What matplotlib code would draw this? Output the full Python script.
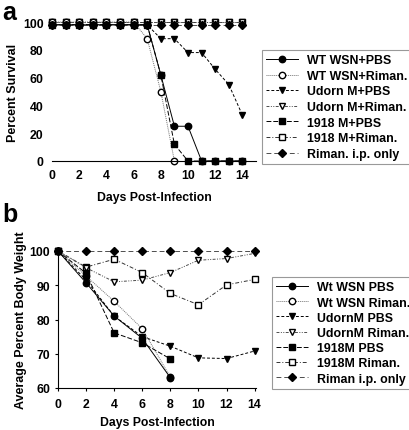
import matplotlib
matplotlib.use('Agg')
import matplotlib.pyplot as plt
import numpy as np

plt.rcParams['font.family'] = ['Liberation Sans', 'DejaVu Sans']
plt.rcParams['font.weight'] = 'bold'

# panel a: survival
days_a = list(range(15))
wt_pbs_a = [98, 98, 98, 98, 98, 98, 98, 98, 62, 25, 25, 0, 0, 0, 0]
wt_rim_a = [100, 100, 100, 100, 100, 100, 100, 88, 50, 0]
ud_pbs_a = [98, 98, 98, 98, 98, 98, 98, 98, 88, 88, 78, 78, 66, 55, 33]
ud_rim_a = [100] * 15
m18_pbs_a = [98, 98, 98, 98, 98, 98, 98, 98, 62, 12, 0, 0, 0, 0, 0]
m18_rim_a = [100] * 15
rim_only_a = [98] * 15
labels_a = ['WT WSN+PBS', 'WT WSN+Riman.', 'Udorn M+PBS', 'Udorn M+Riman.',
            '1918 M+PBS', '1918 M+Riman.', 'Riman. i.p. only']

# panel b: body weight
days_b = [0, 2, 4, 6, 8, 10, 12, 14]
wt_pbs_b = [100, 90.7, 81, 74.5, 63]
wt_rim_b = [100, 92.7, 85.3, 77.3, 63.2]
ud_pbs_b = [100, 91.5, 81, 75, 72.2, 68.8, 68.6, 70.8]
ud_rim_b = [100, 95.1, 91, 91.5, 93.7, 97.3, 97.8, 99.3]
m18_pbs_b = [100, 93.5, 76.1, 73.2, 68.5]
m18_rim_b = [100, 95.3, 97.6, 93.7, 87.6, 84.3, 90.1, 91.7]
rim_only_b = [100] * 8
labels_b = ['Wt WSN PBS', 'Wt WSN Riman.', 'UdornM PBS', 'UdornM Riman.',
            '1918M PBS', '1918M Riman.', 'Riman i.p. only']

styles = [
    dict(ls='-', color='black', marker='o', mfc='black'),
    dict(ls=(0, (1, 1)), color='0.45', marker='o', mfc='white', mec='black'),
    dict(ls=(0, (3, 2)), color='black', marker='v', mfc='black'),
    dict(ls=(0, (3, 1.5, 1, 1.5, 1, 1.5)), color='0.3', marker='v', mfc='white', mec='black'),
    dict(ls=(0, (5, 2)), color='black', marker='s', mfc='black'),
    dict(ls=(0, (4, 2, 1, 2)), color='0.2', marker='s', mfc='white', mec='black'),
    dict(ls=(0, (5, 3)), color='0.3', marker='D', mfc='black', mec='black'),
]

fig = plt.figure(figsize=(4.1, 4.31), dpi=100)
W, H = 410.0, 431.0


def px_axes(x0, y0, x1, y1):
    return fig.add_axes([x0 / W, 1 - y1 / H, (x1 - x0) / W, (y1 - y0) / H])


tick_kw = dict(labelsize=8.8)
order = [5, 3, 1, 4, 2, 6, 0]


def msize(st):
    return 3.8 if st['marker'] == 'D' else 4.6


def make_legend(ax, handles, labels, x0, y0, spacing):
    leg = ax.legend(handles=handles, labels=labels, loc='upper left',
                    bbox_to_anchor=(x0 / W, 1 - y0 / H), bbox_transform=fig.transFigure,
                    fontsize=8.9, frameon=True, fancybox=False, handlelength=2.6,
                    handletextpad=0.7, labelspacing=spacing, borderpad=0.35,
                    borderaxespad=0)
    leg.get_frame().set_edgecolor('0.5')
    leg.get_frame().set_linewidth(0.8)


# ---- panel a
ax1 = px_axes(52, 23, 256, 162)
series_a = [(days_a[:len(wt_pbs_a)], wt_pbs_a), (days_a[:len(wt_rim_a)], wt_rim_a),
            (days_a, ud_pbs_a), (days_a, ud_rim_a), (days_a, m18_pbs_a),
            (days_a, m18_rim_a), (days_a, rim_only_a)]
handles = [None] * 7
for i in order:
    x, y = series_a[i]
    st = styles[i]
    h, = ax1.plot(x, y, lw=0.7, ms=msize(st), clip_on=False, label=labels_a[i], **st)
    handles[i] = h
ax1.set_xlim(0, 15)
ax1.set_ylim(0, 100)
ax1.set_xticks(range(0, 15, 2))
ax1.set_yticks(range(0, 101, 20))
for s in ['top', 'right', 'left']:
    ax1.spines[s].set_visible(False)
ax1.spines['bottom'].set_linewidth(0.8)
ax1.tick_params(axis='y', length=0, pad=6, **tick_kw)
ax1.tick_params(axis='x', length=0, pad=6, **tick_kw)
ax1.set_xlabel('Days Post-Infection', fontsize=8.8, fontweight='bold', labelpad=7)
ax1.set_ylabel('Percent Survival', fontsize=9, fontweight='bold', labelpad=3)
make_legend(ax1, handles, labels_a, 262, 51, 0.29)

# ---- panel b
ax2 = px_axes(58, 252, 256, 389)
series_b = [wt_pbs_b, wt_rim_b, ud_pbs_b, ud_rim_b, m18_pbs_b, m18_rim_b, rim_only_b]
handles = [None] * 7
for i in order:
    y = series_b[i]
    st = styles[i]
    h, = ax2.plot(days_b[:len(y)], y, lw=0.7, ms=msize(st), clip_on=False, label=labels_b[i], **st)
    handles[i] = h
ax2.set_xlim(0, 14.1)
ax2.set_ylim(60, 100)
ax2.set_xticks(range(0, 15, 2))
ax2.set_yticks(range(60, 101, 10))
for s in ['top', 'right']:
    ax2.spines[s].set_visible(False)
ax2.spines['bottom'].set_linewidth(0.8)
ax2.spines['left'].set_linewidth(0.8)
ax2.tick_params(axis='both', length=2.5, width=0.8, **tick_kw)
ax2.tick_params(axis='x', pad=5)
ax2.tick_params(axis='y', pad=3)
ax2.set_xlabel('Days Post-Infection', fontsize=8.8, fontweight='bold', labelpad=4)
ax2.set_ylabel('Average Percent Body Weight', fontsize=9, fontweight='bold', labelpad=2)
make_legend(ax2, handles, labels_b, 272, 278, 0.26)

fig.text(2 / W, 1 - 1 / H, 'a', fontsize=18, fontweight='bold', va='top', ha='left')
fig.text(2 / W, 1 - 203 / H, 'b', fontsize=18, fontweight='bold', va='top', ha='left')

fig.savefig('out.png', dpi=100)
